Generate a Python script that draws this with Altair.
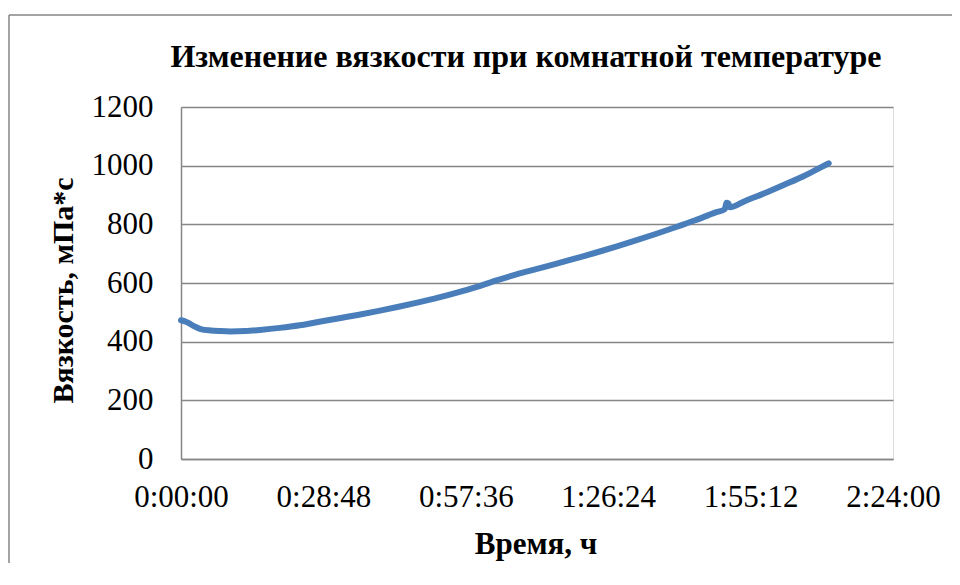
import altair as alt
import pandas as pd

# time in minutes, viscosity in mPa*s
minutes = [0, 1, 2, 3, 4, 6, 8, 10, 13, 16, 20, 24, 28, 32, 36, 40, 44, 48, 52,
           56, 60, 64, 68, 72, 76, 80, 84, 88, 92, 96, 100, 104, 108, 110,
           110.3, 110.7, 111, 114, 118, 122, 126, 129, 131]
viscosity = [473, 468, 459, 450, 443, 438, 436, 435, 436, 440, 447, 456, 468, 480,
             492, 505, 519, 534, 550, 568, 588, 610, 630, 648, 666, 685, 704, 724,
             745, 767, 790, 814, 840, 852, 874, 872, 858, 879, 906, 935, 965, 991, 1008]

x_ticks = [0, 28.8, 57.6, 86.4, 115.2, 144]
y_ticks = [0, 200, 400, 600, 800, 1000, 1200]

title_text = "Изменение вязкости при комнатной температуре"
x_title = "Время, ч"
y_title = "Вязкость, мПа*с"

df = pd.DataFrame({"t": minutes, "v": viscosity})

FONT = "Liberation Serif"
GRAY = "#868686"

label_expr = (
    "floor(round(datum.value*60)/3600) + ':' + "
    "(floor((round(datum.value*60)%3600)/60) < 10 ? '0' : '') + floor((round(datum.value*60)%3600)/60) + ':' + "
    "(round(datum.value*60)%60 < 10 ? '0' : '') + (round(datum.value*60)%60)"
)

line = alt.Chart(df).mark_line(
    color="#4a7ebb", strokeWidth=6, strokeCap="round", strokeJoin="round",
    interpolate="monotone"
).encode(
    x=alt.X("t:Q", scale=alt.Scale(domain=[0, 144], nice=False, zero=False),
            axis=alt.Axis(values=x_ticks, labelExpr=label_expr, grid=False,
                          ticks=False, tickSize=0, domain=True, domainColor=GRAY,
                          domainWidth=1.5, labelFont=FONT, labelFontSize=31,
                          labelColor="black", labelPadding=23, labelFlush=False,
                          labelOverlap=False, labelBound=False,
                          title=x_title, titleFont=FONT, titleFontSize=31,
                          titleFontWeight="bold", titleColor="black",
                          titleX=354.5, titleY=94.5, titleBaseline="alphabetic",
                          titleAlign="center")),
    y=alt.Y("v:Q", scale=alt.Scale(domain=[0, 1200], nice=False),
            axis=alt.Axis(values=y_ticks, format="d", grid=True, gridColor=GRAY,
                          gridWidth=1.5, ticks=False, tickSize=0, domain=True,
                          domainColor=GRAY, domainWidth=1.5, labelFont=FONT,
                          labelFontSize=31, labelColor="black", labelPadding=28,
                          labelFlush=False, labelOverlap=False, labelBound=False,
                          title=y_title, titleFont=FONT, titleFontSize=30,
                          titleFontWeight="bold", titleColor="black",
                          titleAngle=270, titleX=-109, titleY=183,
                          titleBaseline="alphabetic", titleAlign="center")),
)

one = pd.DataFrame({"label": [title_text]})

frame_left = alt.Chart(one).mark_rule(stroke=GRAY, strokeWidth=1.5).encode(
    x=alt.value(-172), y=alt.value(-92), y2=alt.value(456),
)
frame_top = alt.Chart(one).mark_rule(stroke=GRAY, strokeWidth=1.5).encode(
    x=alt.value(-172), x2=alt.value(771), y=alt.value(-92),
)

title = alt.Chart(one).mark_text(
    font=FONT, fontSize=32, fontWeight="bold", color="black",
    align="center", baseline="alphabetic"
).encode(
    x=alt.value(345), y=alt.value(-40), text="label:N"
)

chart = alt.layer(frame_left, frame_top, line, title).properties(
    width=712, height=352,
    autosize=alt.AutoSizeParams(type="none"),
    padding={"left": 173, "top": 99, "right": 59, "bottom": 105},
).configure_view(stroke=None).configure(background="white")

chart.save("out.html", embed_options={"renderer": "svg", "actions": False})
